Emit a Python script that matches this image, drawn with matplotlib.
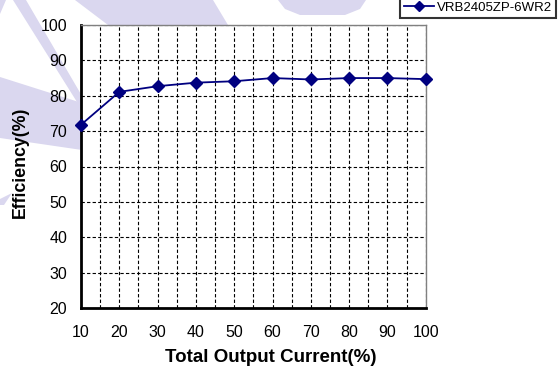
"""Efficiency curve chart (VRB2405ZP-6WR2)"""

import matplotlib
matplotlib.use("Agg")
import matplotlib.pyplot as plt
from matplotlib.patches import Polygon

# data
load_pct = [10, 20, 30, 40, 50, 60, 70, 80, 90, 100]
efficiency = [71.8, 81.1, 82.7, 83.7, 84.1, 85.0, 84.6, 85.0, 85.0, 84.7]
series_name = "VRB2405ZP-6WR2"
y_ticks = [20, 30, 40, 50, 60, 70, 80, 90, 100]

W, H = 559, 372
plt.rcParams["font.family"] = ["Liberation Sans", "DejaVu Sans"]

fig = plt.figure(figsize=(W / 100, H / 100), dpi=100)


def px(x, y):
    # pixel coords (top-left origin) -> figure fraction
    return (x / W, 1 - y / H)


# faint watermark pieces behind the plot
wm_color = "#dad7ef"
wm_shapes = [
    [(75, 0), (213, 0), (228, 25), (108, 25)],
    [(278, 0), (366, 0), (360, 9), (345, 15), (300, 15), (285, 9)],
    [(13, 0), (26, 0), (82, 96), (82, 110)],
    [(0, 77), (82, 103), (82, 150), (0, 138)],
    [(0, 0), (6, 0), (0, 14)],
    [(0, 199), (12, 193), (4, 205), (0, 205)],
]
for shp in wm_shapes:
    fig.patches.append(Polygon([px(x, y) for x, y in shp], closed=True,
                               transform=fig.transFigure, facecolor=wm_color,
                               edgecolor="none", zorder=0))

ax = fig.add_axes([81 / W, 1 - 308 / H, 344.7 / W, 283 / H])
ax.set_facecolor("white")
ax.set_zorder(1)

ax.plot(load_pct, efficiency, color="#000080", linewidth=1.3, marker="D",
        markersize=6, label=series_name, clip_on=False, zorder=3)

ax.set_xlim(10, 100)
ax.set_ylim(20, 100)
ax.set_xticks(load_pct)
ax.set_yticks(y_ticks)
ax.set_xticks(range(15, 100, 10), minor=True)

ax.grid(True, which="major", color="black", linestyle=(0, (3, 2)), linewidth=0.8)
ax.grid(True, which="minor", axis="x", color="black", linestyle=(0, (3, 2)), linewidth=0.8)
ax.tick_params(which="both", length=0)
ax.tick_params(axis="y", pad=10, labelsize=11.5)
ax.tick_params(axis="x", pad=12, labelsize=11.5)

for side in ["left", "bottom"]:
    ax.spines[side].set_linewidth(2)
    ax.spines[side].set_color("black")
for side in ["top", "right"]:
    ax.spines[side].set_linewidth(1)
    ax.spines[side].set_color("#808080")

fig.text(*px(271, 357), "Total Output Current(%)", ha="center", va="center",
         fontsize=13.5, fontweight="bold")
fig.text(*px(20, 162), "Efficiency(%)", ha="center", va="center",
         rotation=90, fontsize=12.8, fontweight="bold")

leg = ax.legend(loc="lower right", bbox_to_anchor=px(556, 18),
                bbox_transform=fig.transFigure, fontsize=9.5, frameon=True,
                fancybox=False, borderaxespad=0, handlelength=2.3,
                handletextpad=0.2, borderpad=0.3, markerscale=0.9)
leg.get_frame().set_edgecolor("black")
leg.get_frame().set_linewidth(1.5)
leg.set_zorder(5)

fig.savefig("out.png", dpi=100)
plt.close(fig)
